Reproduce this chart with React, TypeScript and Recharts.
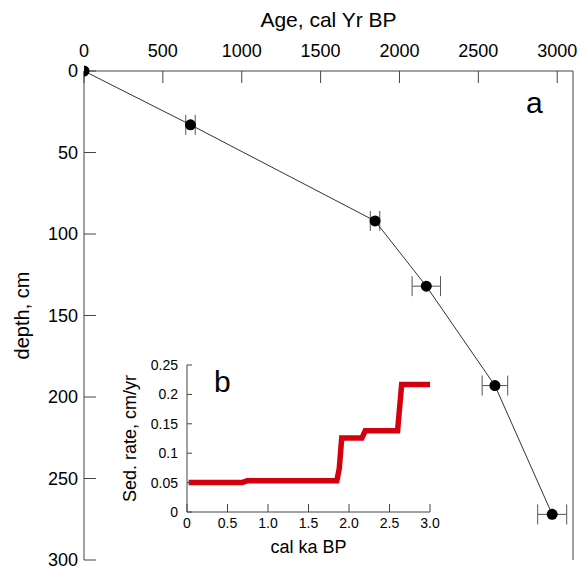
import React from 'react';
import {
  ComposedChart, Scatter, ErrorBar, XAxis, YAxis, LineChart, Line,
} from 'recharts';

// age-depth model points (cal yr BP vs cm)
const ages = [0, 675, 1845, 2170, 2605, 2968];
const depths = [0, 33, 92, 132, 193, 272];
const ageErr = [null, 30, 30, 90, 81, 92];
const ageTicks = [0, 500, 1000, 1500, 2000, 2500, 3000];
const depthTicks = [0, 50, 100, 150, 200, 250, 300];

// inset: sedimentation rate
const rateKa = [0.02, 0.68, 0.74, 1.85, 1.88, 1.91, 2.16, 2.2, 2.6, 2.65, 3.0];
const rateVal = [0.05, 0.05, 0.053, 0.053, 0.074, 0.126, 0.126, 0.138, 0.138, 0.217, 0.217];
const kaTicks = [0, 0.5, 1, 1.5, 2, 2.5, 3];
const rateTicks = [0, 0.05, 0.1, 0.15, 0.2, 0.25];

const points = ages.map((a, i) => ({ age: a, depth: depths[i], err: ageErr[i] }));
const rateData = rateKa.map((k, i) => ({ ka: k, rate: rateVal[i] }));

const FONT = '"Liberation Sans", Arial, Helvetica, sans-serif';
const axisCol = '#444';

const Dot = (p: any) => <circle cx={p.cx} cy={p.cy} r={5.5} fill="#000" />;

export default function App() {
  return (
    <div style={{ position: 'absolute', left: 0, top: 0, width: 580, height: 566, overflow: 'hidden', background: '#fff', fontFamily: FONT }}>
      <ComposedChart width={580} height={600} data={points} margin={{ top: 0, right: 0, left: 0, bottom: 40 }}>
        <XAxis
          dataKey="age" type="number" orientation="top" height={71}
          domain={[0, 3100]} ticks={ageTicks} allowDataOverflow
          tickSize={-12} tickMargin={26}
          stroke={axisCol} tick={{ fill: '#000', fontSize: 18, fontFamily: FONT }}
          label={{ value: 'Age, cal Yr BP', position: 'insideTop', offset: 12, fill: '#000', fontSize: 21, fontFamily: FONT }}
        />
        <YAxis
          yAxisId="l" dataKey="depth" type="number" reversed width={84}
          domain={[0, 300]} ticks={depthTicks}
          tickSize={-12} tickMargin={18}
          stroke={axisCol} tick={{ fill: '#000', fontSize: 18, fontFamily: FONT }}
          label={{ value: 'depth, cm', angle: -90, position: 'insideLeft', offset: 22, fill: '#000', fontSize: 20, fontFamily: FONT, style: { textAnchor: 'middle' } }}
        />
        <YAxis
          yAxisId="r" orientation="right" type="number" reversed width={7}
          domain={[0, 300]} ticks={depthTicks}
          tickSize={-12} tick={false} stroke={axisCol}
        />
        <Scatter
          yAxisId="l" data={points} shape={Dot}
          line={{ stroke: '#333', strokeWidth: 1 }} lineType="joint"
          isAnimationActive={false}
        >
          <ErrorBar dataKey="err" direction="x" width={10} stroke="#555" strokeWidth={1} isAnimationActive={false} />
        </Scatter>
      </ComposedChart>

      <div style={{ position: 'absolute', left: 100, top: 340 }}>
        <LineChart width={350} height={226} data={rateData} margin={{ top: 25, right: 20, left: 10, bottom: 0 }}>
          <XAxis
            dataKey="ka" type="number" domain={[0, 3]} ticks={kaTicks} height={54}
            tickFormatter={(v: number) => (v === 0 ? '0' : v.toFixed(1))}
            tickSize={-8} tickMargin={14}
            stroke={axisCol} tick={{ fill: '#000', fontSize: 14, fontFamily: FONT }}
            label={{ value: 'cal ka BP', position: 'insideBottom', offset: 13, fill: '#000', fontSize: 18, fontFamily: FONT }}
          />
          <YAxis
            type="number" domain={[0, 0.25]} ticks={rateTicks} width={77}
            tickFormatter={(v: number) => String(v)}
            tickSize={-5} tickMargin={14}
            stroke={axisCol} tick={{ fill: '#000', fontSize: 14, fontFamily: FONT }}
            label={{ value: 'Sed. rate, cm/yr', angle: -90, position: 'insideLeft', offset: 20, fill: '#000', fontSize: 18, fontFamily: FONT, style: { textAnchor: 'middle' } }}
          />
          <Line dataKey="rate" type="linear" stroke="#d40010" strokeWidth={5.5} dot={false} isAnimationActive={false} />
        </LineChart>
      </div>

      <div style={{ position: 'absolute', left: 526, top: 88, fontSize: 30, lineHeight: '30px', color: '#000' }}>a</div>
      <div style={{ position: 'absolute', left: 214, top: 367, fontSize: 30, lineHeight: '30px', color: '#000' }}>b</div>
    </div>
  );
}
